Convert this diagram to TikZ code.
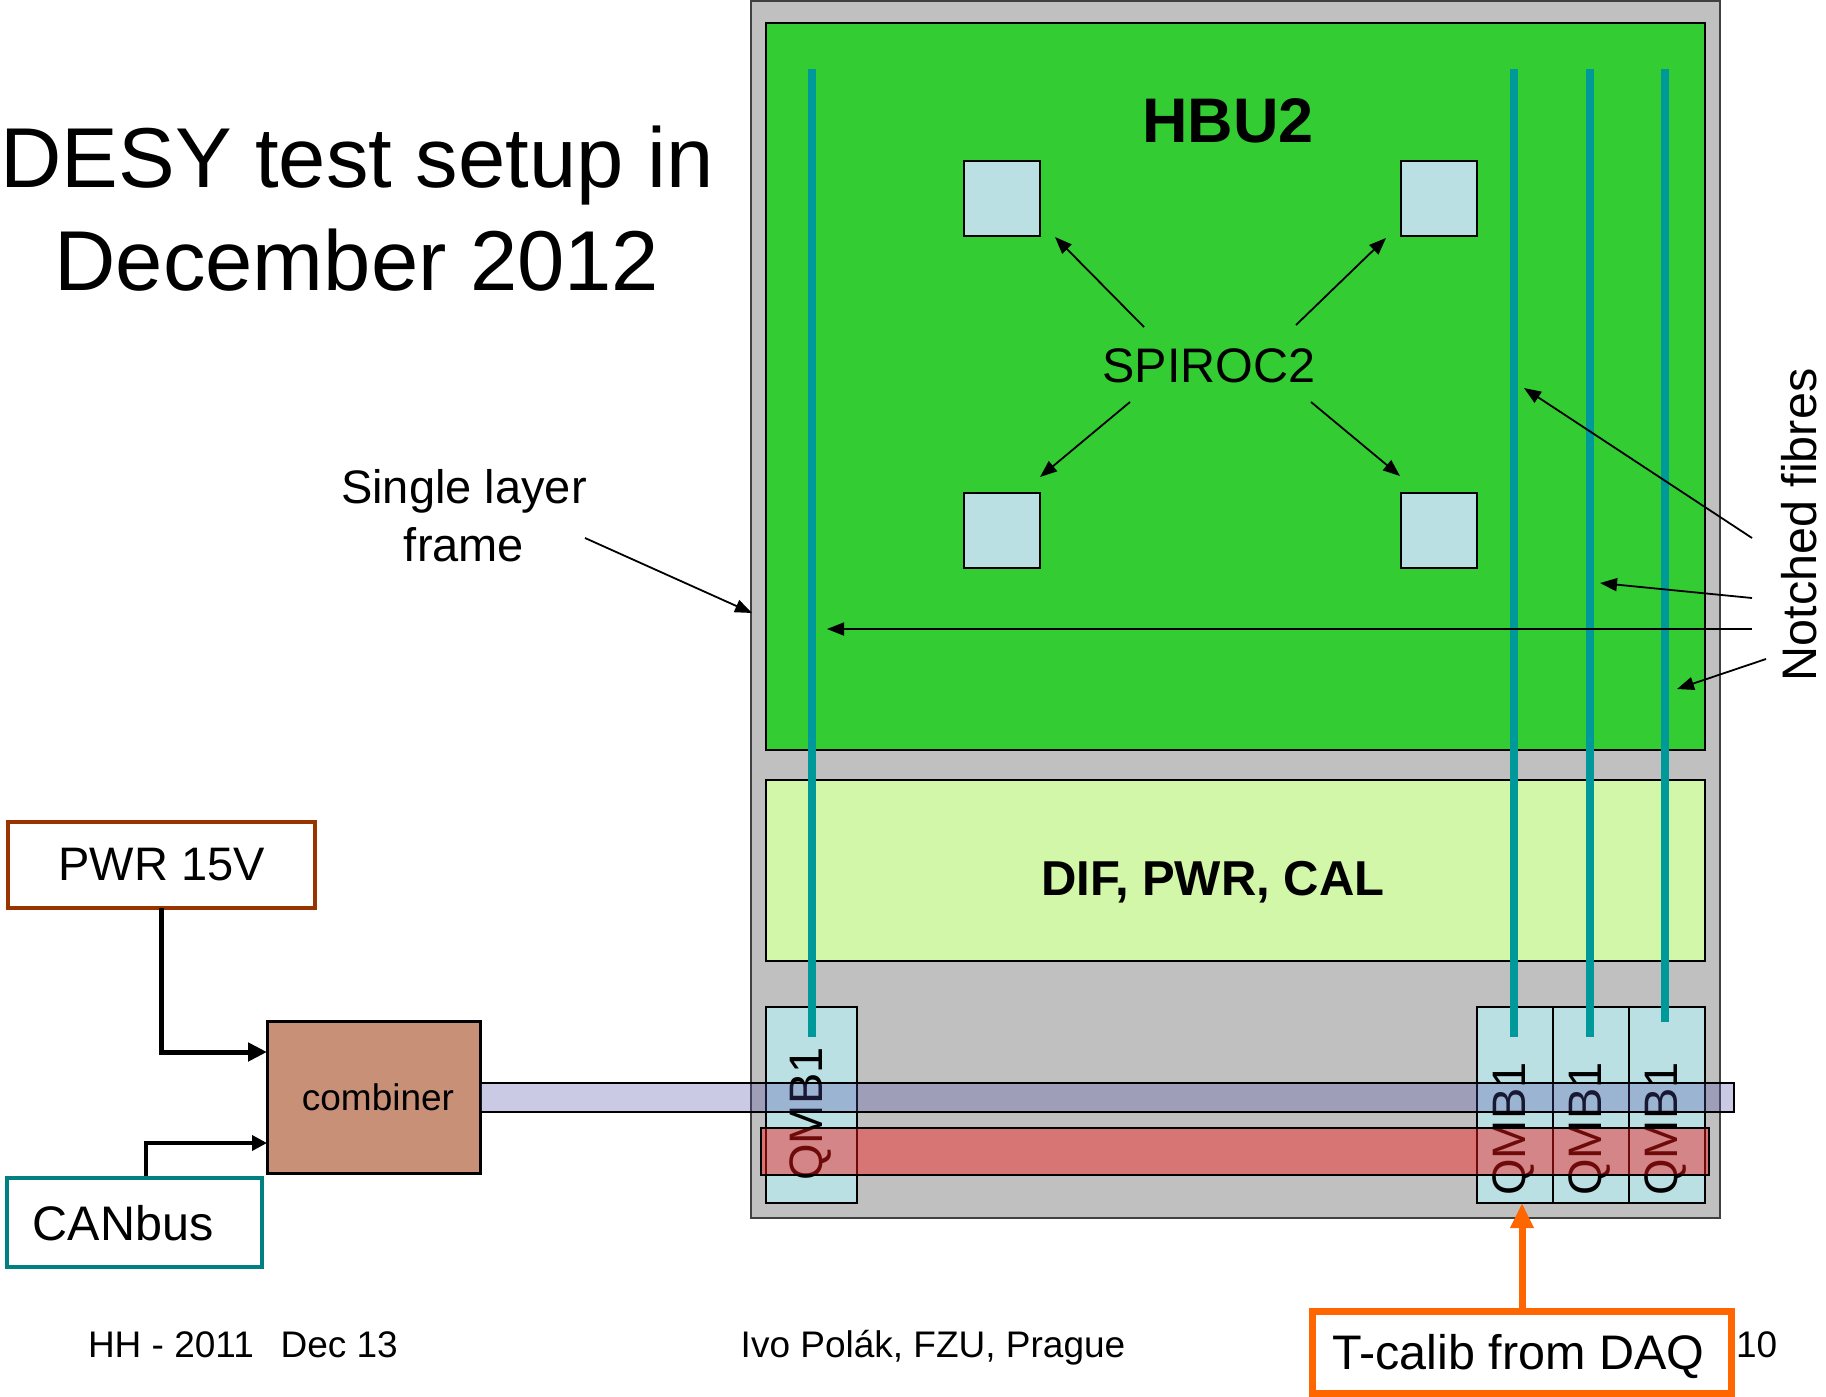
\documentclass[tikz,border=0pt]{standalone}
\usepackage{fontspec}
\setmainfont{Liberation Sans}
\usetikzlibrary{arrows.meta}
\definecolor{framegray}{HTML}{C0C0C0}
\definecolor{framedge}{HTML}{404040}
\definecolor{hbugreen}{HTML}{33CC33}
\definecolor{difgreen}{HTML}{D2F7A8}
\definecolor{chipblue}{HTML}{BBE0E3}
\definecolor{fibre}{HTML}{009999}
\definecolor{combcol}{HTML}{C79077}
\definecolor{pwrcol}{HTML}{993300}
\definecolor{cancol}{HTML}{008080}
\definecolor{tcalcol}{HTML}{FF6600}
\definecolor{lavcol}{RGB}{80,80,170}
\definecolor{redcol}{RGB}{244,24,24}
\begin{document}
\begin{tikzpicture}[x=1pt,y=-1pt,
  box/.style={draw=black, line width=2.2pt, inner sep=0pt, outer sep=0pt, anchor=north west},
  fibreline/.style={draw=fibre, line width=7.5pt},
  arr/.style={-{Triangle[length=17pt,width=13pt]}, line width=1.8pt},
  lbl/.style={inner sep=0pt, outer sep=0pt},
  f85/.style={font=\fontsize{85}{100}\selectfont},
  f65b/.style={font=\fontsize{63}{76}\selectfont\bfseries},
  f48/.style={font=\fontsize{47}{56}\selectfont},
  f49/.style={font=\fontsize{48.5}{58}\selectfont},
  f48b/.style={font=\fontsize{49}{58}\selectfont\bfseries},
  f37/.style={font=\fontsize{37}{44}\selectfont},
]
\useasboundingbox (0,0) rectangle (1826,1397);

% frame and boards
\node[box, draw=framedge, line width=2pt, fill=framegray, minimum width=969pt, minimum height=1217pt] (frame) at (751,1) {};
\node[box, fill=hbugreen, minimum width=939pt, minimum height=727pt] (hbu) at (766,23) {};
\node[box, fill=difgreen, minimum width=939pt, minimum height=181pt] (dif) at (766,780) {};

% SPIROC chips
\node[box, line width=2pt, fill=chipblue, minimum width=76pt, minimum height=75pt] (sqTL) at (964,161) {};
\node[box, line width=2pt, fill=chipblue, minimum width=76pt, minimum height=75pt] (sqTR) at (1401,161) {};
\node[box, line width=2pt, fill=chipblue, minimum width=76pt, minimum height=75pt] (sqBL) at (964,493) {};
\node[box, line width=2pt, fill=chipblue, minimum width=76pt, minimum height=75pt] (sqBR) at (1401,493) {};

% QMB boxes
\node[box, line width=2pt, fill=chipblue, minimum width=91pt, minimum height=196pt] (qmbL) at (766,1007) {};
\node[box, line width=2pt, fill=chipblue, minimum width=76pt, minimum height=196pt] (qmbA) at (1477,1007) {};
\node[box, line width=2pt, fill=chipblue, minimum width=76pt, minimum height=196pt] (qmbB) at (1553,1007) {};
\node[box, line width=2pt, fill=chipblue, minimum width=76pt, minimum height=196pt] (qmbC) at (1629,1007) {};

% fibres
\coordinate (fLt) at (812,69);  \coordinate (fLb) at (812,1037);
\coordinate (fAt) at (1514,69); \coordinate (fAb) at (1514,1037);
\coordinate (fBt) at (1590,69); \coordinate (fBb) at (1590,1037);
\coordinate (fCt) at (1665,69); \coordinate (fCb) at (1665,1022);
\draw[fibreline] (fLt) -- (fLb);
\draw[fibreline] (fAt) -- (fAb);
\draw[fibreline] (fBt) -- (fBb);
\draw[fibreline] (fCt) -- (fCb);

% QMB labels
\node[lbl, f48, rotate=90] (tqL) at (811,1114) {QMB1};
\node[lbl, f48, rotate=90] (tqA) at (1514,1129) {QMB1};
\node[lbl, f48, rotate=90] (tqB) at (1590,1129) {QMB1};
\node[lbl, f48, rotate=90] (tqC) at (1666,1129) {QMB1};

% left side boxes
\node[box, draw=pwrcol, line width=4.5pt, minimum width=307pt, minimum height=86pt, f48] (pwr) at (8,822) {PWR 15V};
\node[box, draw=cancol, line width=4.5pt, minimum width=255pt, minimum height=89pt] (can) at (7,1178) {};
\node[lbl, f49] (cantext) at (123,1223) {CANbus};
\node[box, fill=combcol, line width=3pt, minimum width=213pt, minimum height=152pt, f37] (comb) at (267,1021) {\hspace{9pt}combiner};

% bars (semi-transparent, on top)
\node[box, line width=1.5pt, fill=lavcol, fill opacity=0.3, draw opacity=1, minimum width=1254pt, minimum height=29pt] (lavbar) at (480,1083) {};
\node[box, line width=2pt, fill=redcol, fill opacity=0.45, draw opacity=1, minimum width=948pt, minimum height=47pt] (redbar) at (761,1128) {};

% connectors to combiner
\coordinate (combin1) at (267,1052);
\coordinate (canout) at (146,1176);
\coordinate (combin2) at (267,1143);
\draw[line width=5pt, -{Triangle[length=19pt,width=18pt]}] (pwr.south) |- (combin1);
\draw[line width=3.5pt, -{Triangle[length=15pt,width=15pt]}] (canout) |- (combin2);

% T-calib
\node[box, draw=tcalcol, line width=7pt, minimum width=419pt, minimum height=82pt] (tcal) at (1312.5,1311.5) {};
\node[lbl, f49, anchor=base] (tcaltext) at (1518.5,1369) {T-calib from DAQ};
\draw[draw=tcalcol, line width=7pt, -{Triangle[length=25pt,width=22pt]}] (tcal.north) -- (tcal.north |- qmbA.south);

% texts
\node[lbl, f85, anchor=base] (title1) at (357,187) {DESY test setup in};
\node[lbl, f85, anchor=base] (title2) at (357,290) {December 2012};
\node[lbl, f65b, anchor=base] (hbutext) at (1228,142) {HBU2};
\node[lbl, f49, anchor=base] (spiroc) at (1209,382) {SPIROC2};
\node[lbl, f48b, anchor=base] (diftext) at (1213,895) {DIF, PWR, CAL};
\node[lbl, f48, anchor=base] (single1) at (464,503) {Single layer};
\node[lbl, f48, anchor=base] (single2) at (464,561) {frame};
\node[lbl, f49, rotate=90] (notched) at (1799,525) {Notched fibres};
\node[lbl, f37, anchor=base west] (foot1) at (88,1357) {HH - 2011\ \ \,Dec 13};
\node[lbl, f37, anchor=base] (foot2) at (933,1357) {Ivo Polák, FZU, Prague};
\node[lbl, f37, anchor=base west] (foot3) at (1736,1357) {10};

% SPIROC arrows
\coordinate (sA) at (1144,327); \coordinate (eA) at (1055,237);
\coordinate (sB) at (1296,325); \coordinate (eB) at (1386,238);
\coordinate (sC) at (1130,402); \coordinate (eC) at (1040,477);
\coordinate (sD) at (1311,402); \coordinate (eD) at (1400,476);
\draw[arr] (sA) -- (eA);
\draw[arr] (sB) -- (eB);
\draw[arr] (sC) -- (eC);
\draw[arr] (sD) -- (eD);

% notched fibre arrows
\coordinate (n1) at (1752,538); \coordinate (m1) at (1524,388);
\coordinate (n2) at (1752,598); \coordinate (m2) at (1600,583);
\coordinate (n3) at (1752,629); \coordinate (m3) at (827,629);
\coordinate (n4) at (1766,659); \coordinate (m4) at (1677,689);
\draw[arr] (n1) -- (m1);
\draw[arr] (n2) -- (m2);
\draw[arr] (n3) -- (m3);
\draw[arr] (n4) -- (m4);

% single layer frame arrow
\coordinate (fs) at (585,538); \coordinate (fe) at (752,613);
\draw[arr] (fs) -- (fe);
\end{tikzpicture}
\end{document}
